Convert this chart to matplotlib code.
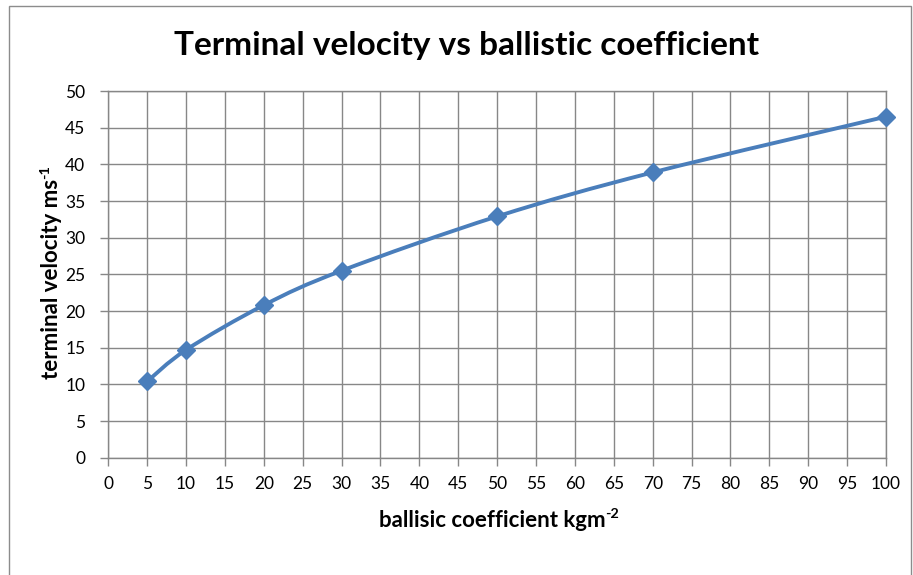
import matplotlib
matplotlib.use("Agg")
import matplotlib.pyplot as plt
from matplotlib.path import Path
from matplotlib.patches import PathPatch, Rectangle
import numpy as np

# Data
ballistic_coef = [5, 10, 20, 30, 50, 70, 100]
terminal_vel = [10.4, 14.7, 20.8, 25.5, 32.9, 38.9, 46.5]
x_ticks = list(range(0, 101, 5))
y_ticks = list(range(0, 51, 5))

title = "Terminal velocity vs ballistic coefficient"
xlabel_main, xlabel_sup = "ballisic coefficient kgm", "-2"
ylabel_main, ylabel_sup = "terminal velocity ms", "-1"

plt.rcParams['font.family'] = ['Lato', 'DejaVu Sans']

W, H = 913, 575
fig = plt.figure(figsize=(W / 100, H / 100), dpi=100)
fig.patch.set_facecolor('white')

# outer chart border
fig.add_artist(Rectangle((9 / W, -0.01), (911 - 9) / W, 1 - 6 / H + 0.01,
                         transform=fig.transFigure, fill=False,
                         edgecolor='#8c8c8c', linewidth=1.0))

ax = fig.add_axes([108.3 / W, 1 - 457.7 / H, (886 - 108.3) / W, (457.7 - 91) / H])
ax.set_xlim(0, 100)
ax.set_ylim(0, 50)
ax.set_xticks(x_ticks)
ax.set_yticks(y_ticks)
ax.grid(True, color='#878787', linewidth=1.0)
ax.set_axisbelow(True)
for s in ax.spines.values():
    s.set_color('#878787')
    s.set_linewidth(1.0)
ax.tick_params(axis='both', colors='#878787', length=5.5, width=1.0,
               labelcolor='black', labelsize=12.5)
ax.tick_params(axis='x', pad=8)
ax.tick_params(axis='y', pad=11)

# Smoothed line (Excel-style Bezier smoothing)
xs = np.array(ballistic_coef, dtype=float)
ys = np.array(terminal_vel, dtype=float)
pts = np.column_stack([xs, ys])
n = len(pts)
verts = [pts[0]]
codes = [Path.MOVETO]
for i in range(n - 1):
    p0 = pts[i - 1] if i > 0 else pts[i]
    p1 = pts[i]
    p2 = pts[i + 1]
    p3 = pts[i + 2] if i + 2 < n else pts[i + 1]
    c1 = p1 + (p2 - p0) / 6.0
    c2 = p2 - (p3 - p1) / 6.0
    verts += [c1, c2, p2]
    codes += [Path.CURVE4] * 3
path = Path(verts, codes)
ax.add_patch(PathPatch(path, fill=False, edgecolor='#4A7EBB', linewidth=2.8,
                       capstyle='round', joinstyle='round', zorder=3))
ax.plot(xs, ys, linestyle='none', marker='D', markersize=9.5,
        color='#4A7EBB', zorder=4, clip_on=False)

fig.text(467 / W, 1 - 46 / H, title, ha='center', va='center',
         fontsize=24, fontweight='bold')

renderer = fig.canvas.get_renderer()


def text_width(s, size):
    t = fig.text(0, 0, s, fontsize=size, fontweight='bold')
    w = t.get_window_extent(renderer).width
    t.remove()
    return w


def label_with_sup(main, sup, cx, cy, size, vertical=False):
    sup_size = size * 0.65
    wm = text_width(main, size)
    ws = text_width(sup, sup_size)
    total = wm + ws
    raise_px = size * 0.42 * 100 / 72
    cap = size * 0.36 * 100 / 72  # offset baseline to centre of x-height-ish
    if not vertical:
        x0 = cx - total / 2
        yb = cy - cap
        fig.text(x0 / W, yb / H, main, ha='left', va='baseline',
                 fontsize=size, fontweight='bold')
        fig.text((x0 + wm) / W, (yb + raise_px) / H, sup, ha='left',
                 va='baseline', fontsize=sup_size, fontweight='bold')
    else:
        y0 = cy - total / 2
        xb = cx + cap
        fig.text(xb / W, y0 / H, main, ha='left', va='baseline', rotation=90,
                 rotation_mode='anchor', fontsize=size, fontweight='bold')
        fig.text((xb - raise_px) / W, (y0 + wm) / H, sup, ha='left',
                 va='baseline', rotation=90, rotation_mode='anchor',
                 fontsize=sup_size, fontweight='bold')


label_with_sup(xlabel_main, xlabel_sup, 499, H - 519, 16)
label_with_sup(ylabel_main, ylabel_sup, 50, H - 272, 16, vertical=True)

fig.savefig('out.png', dpi=100)
